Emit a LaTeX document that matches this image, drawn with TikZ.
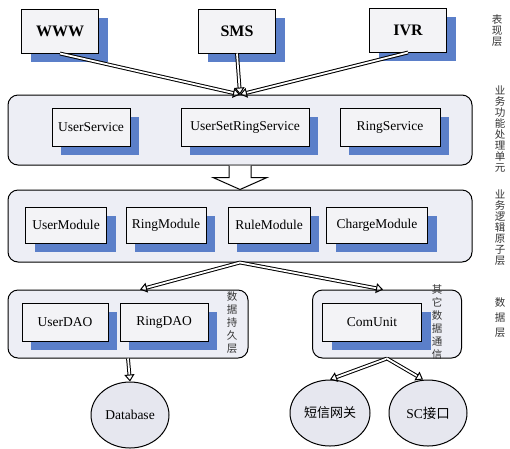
\documentclass[tikz,border=0pt]{standalone}
\usepackage{fontspec}
\setmainfont{Liberation Serif}
\newfontfamily\cjk{Noto Sans CJK SC}
\usepackage{xcolor}
\usepackage{tikz}
\usetikzlibrary{shapes.geometric, arrows.meta, shadows, calc}
\definecolor{shadowblue}{HTML}{5B7FC9}
\definecolor{panelfill}{HTML}{EDEEF5}
\definecolor{boxfill}{HTML}{F3F3F6}
\definecolor{dbfill}{HTML}{E6E7EF}

\tikzset{
  modbox/.style={draw, line width=1pt, fill=boxfill, inner sep=1pt,
    minimum height=38pt, font=\fontsize{13.5}{15}\selectfont,
    drop shadow={shadow xshift=9pt, shadow yshift=-9pt, fill=shadowblue, opacity=1}},
  topbox/.style={modbox, minimum width=77pt, minimum height=44pt,
    font=\fontsize{16}{18}\selectfont\bfseries},
  panel/.style={draw, line width=1pt, rounded corners=10pt, fill=panelfill},
  dbnode/.style={draw, ellipse, line width=1pt, fill=dbfill, inner sep=0pt,
    minimum width=78pt, minimum height=66pt, font=\fontsize{13.5}{15}\selectfont},
  sidetext/.style={align=center, inner sep=0pt, text=black!80, font=\cjk\fontsize{10.5}{11}\selectfont},
  flow/.style={double, double distance=1.8pt, line width=1pt,
    -{Triangle[open, length=7pt, width=10pt]}}
}

\begin{document}
\begin{tikzpicture}[x=1pt, y=-1pt]
\useasboundingbox (0,0) rectangle (510,448);

% presentation layer
\node[topbox] (www) at (60,31) {WWW};
\node[topbox] (sms) at (237,31) {SMS};
\node[topbox] (ivr) at (408,30) {IVR};
\node[sidetext] (lbltop) at (497,31) {表\\现\\层};

% service layer
\node[panel, minimum width=464pt, minimum height=70pt] (svc) at (240,130) {};
\node[modbox, minimum width=78pt] (usersvc) at (91,127) {UserService};
\node[modbox, minimum width=128pt] (setring) at (245,127) {UserSetRingService};
\node[modbox, minimum width=100pt] (ringsvc) at (390,127) {RingService};
\node[sidetext] (lblsvc) at (500,129) {业\\务\\功\\能\\处\\理\\单\\元};

% logic layer
\node[panel, minimum width=464pt, minimum height=72pt] (logic) at (240,226) {};
\node[modbox, minimum width=81pt, minimum height=36pt] (usermod) at (66,225) {UserModule};
\node[modbox, minimum width=80pt, minimum height=36pt] (ringmod) at (166,225) {RingModule};
\node[modbox, minimum width=82pt, minimum height=36pt] (rulemod) at (269,225) {RuleModule};
\node[modbox, minimum width=101pt, minimum height=36pt] (chargemod) at (377,225) {ChargeModule};
\node[sidetext] (lbllogic) at (500,228) {业\\务\\逻\\辑\\原\\子\\层};

% data layer
\node[panel, minimum width=240pt, minimum height=68pt] (dleft) at (128,324) {};
\node[modbox, minimum width=86pt] (userdao) at (65,322) {UserDAO};
\node[modbox, minimum width=88pt] (ringdao) at (164,322) {RingDAO};
\node[sidetext, font=\cjk\fontsize{10.5}{13}\selectfont] (lblpersist) at (232,323) {数\\据\\持\\久\\层};
\node[panel, minimum width=149pt, minimum height=68pt] (dright) at (387,324) {};
\node[modbox, minimum width=99pt] (comunit) at (372,322) {ComUnit};
\node[sidetext, font=\cjk\fontsize{10.5}{13}\selectfont] (lblcomm) at (437,322) {其\\它\\数\\据\\通\\信};
\node[sidetext, font=\cjk\fontsize{10.5}{15}\selectfont] (lbldata) at (500,318) {数\\据\\层};

% external
\node[dbnode] (db) at (130,415) {Database};
\node[dbnode, minimum width=80pt, font=\cjk\fontsize{13}{15}\selectfont] (gateway) at (330,413) {短信网关};
\node[dbnode] (scif) at (428,413) {SC{\cjk 接口}};

% connectors
\draw[flow] (www.south) -- (svc.north);
\draw[flow] (sms.south) -- (svc.north);
\draw[flow] (ivr.south) -- (svc.north);
\draw[line width=1pt, fill=white]
  ([xshift=-11pt]svc.south) -- ([xshift=-11pt, yshift=-12pt]svc.south)
  -- ([xshift=-27pt, yshift=-12pt]svc.south) -- (logic.north)
  -- ([xshift=27pt, yshift=-12pt]svc.south) -- ([xshift=11pt, yshift=-12pt]svc.south)
  -- ([xshift=11pt]svc.south);
\draw[flow] (logic.south) -- ([xshift=12pt]dleft.north);
\draw[flow] (logic.south) -- ([xshift=-4pt]dright.north);
\draw[flow] (dleft.south) -- (db.north);
\draw[flow] (dright.south) -- (gateway.north);
\draw[flow] (dright.south) -- ([xshift=-5pt]scif.north);
\end{tikzpicture}
\end{document}
